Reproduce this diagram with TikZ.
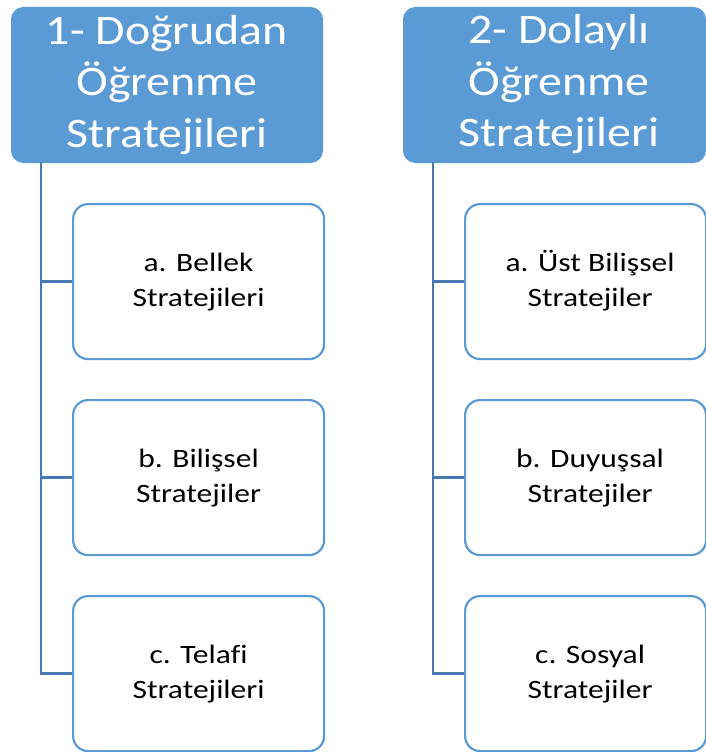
\documentclass[tikz,border=0pt]{standalone}
\usepackage{fontspec}
\setmainfont{Carlito}
\newfontfamily\headfont[FakeStretch=1.14,Ligatures=CommonOff]{Carlito}
\newfontfamily\itemfont[FakeStretch=1.19,Ligatures=CommonOff]{Carlito}
\definecolor{hdrblue}{RGB}{91,155,213}
\definecolor{linkblue}{RGB}{72,122,178}
% text block nudged to the right inside a box
\newcommand\nudged[1]{\hspace*{9pt}\begin{tabular}{@{}c@{}}#1\end{tabular}}
\tikzset{
  headbox/.style={fill=hdrblue, draw=hdrblue, line width=1pt, rounded corners=12pt,
    anchor=north west, minimum height=155pt, text=white, align=center,
    inner sep=0pt, font=\headfont\fontsize{42}{51.5}\selectfont},
  itembox/.style={fill=white, draw=hdrblue, line width=2.2pt, rounded corners=15pt,
    anchor=north west, minimum height=155pt, text=black, align=center,
    inner sep=0pt, font=\itemfont\fontsize{26.5}{35}\selectfont},
  link/.style={draw=linkblue, line width=2.4pt}
}
\begin{document}
\begin{tikzpicture}[x=1pt,y=-1pt]
\useasboundingbox (0,0) rectangle (706,752);
\clip (0,0) rectangle (706,752);

% first column
\node[headbox, minimum width=311pt] (h1) at (11,7) {1- Doğrudan\\Öğrenme\\Stratejileri};
\node[itembox, minimum width=251pt] (a1) at (72,203) {a. Bellek\\Stratejileri};
\node[itembox, minimum width=251pt] (b1) at (72,399) {b. Bilişsel\\Stratejiler};
\node[itembox, minimum width=251pt] (c1) at (72,595) {c. Telafi\\Stratejileri};
\coordinate (s1) at (41,162);
\draw[link] (s1) -- (s1 |- c1.west) -- (c1.west);
\draw[link] (s1 |- a1.west) -- (a1.west);
\draw[link] (s1 |- b1.west) -- (b1.west);

% second column
\node[headbox, minimum width=302pt] (h2) at (403,7) {\nudged{2- Dolaylı\\Öğrenme\\Stratejileri}};
\node[itembox, minimum width=241pt] (a2) at (464,203) {\nudged{a. Üst Bilişsel\\Stratejiler}};
\node[itembox, minimum width=241pt] (b2) at (464,399) {\nudged{b. Duyuşsal\\Stratejiler}};
\node[itembox, minimum width=241pt] (c2) at (464,595) {\nudged{c. Sosyal\\Stratejiler}};
\coordinate (s2) at (433,162);
\draw[link] (s2) -- (s2 |- c2.west) -- (c2.west);
\draw[link] (s2 |- a2.west) -- (a2.west);
\draw[link] (s2 |- b2.west) -- (b2.west);
\end{tikzpicture}
\end{document}
